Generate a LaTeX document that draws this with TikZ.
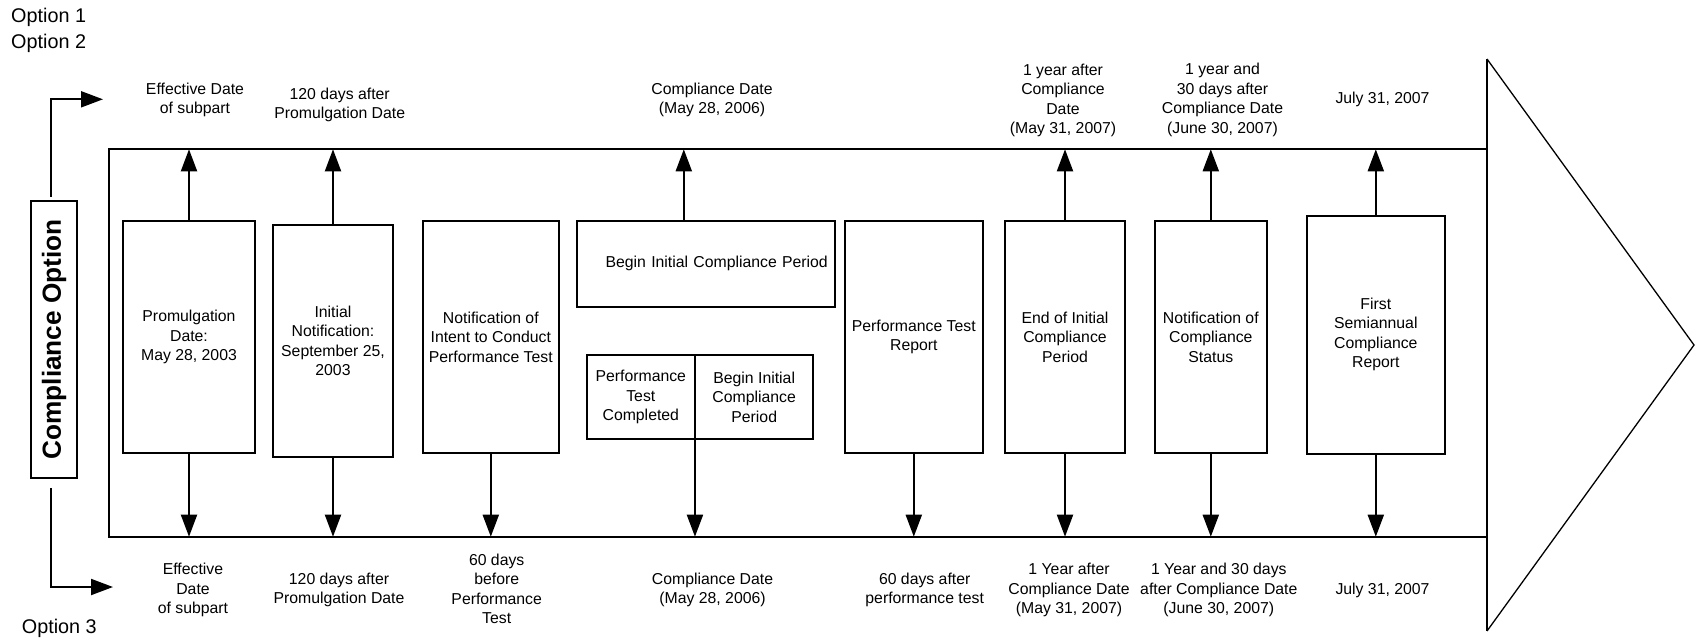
\documentclass[tikz,border=0pt]{standalone}
\usepackage{fontspec}
\setmainfont{Liberation Sans}
\usetikzlibrary{arrows.meta,calc}

\begin{document}
\begin{tikzpicture}[x=1pt, y=-1pt,
    box/.style={draw, line width=2pt, outer sep=0pt, inner sep=2pt, align=center, font=\fontsize{15.8}{19.5}\selectfont},
    lbl/.style={align=center, font=\fontsize{15.8}{19.5}\selectfont},
    opt/.style={anchor=west, inner sep=0pt, font=\fontsize{19.8}{24}\selectfont},
    arr/.style={line width=2pt, -{Triangle[length=22pt, width=16pt]}}]
        \useasboundingbox (0,0) rectangle (1696,641);

        \node[box, minimum width=1378pt, minimum height=387.4pt] (frame) at (798,343) {};

        \node[box, minimum width=132pt, minimum height=232pt] (prom) at (189,337) {Promulgation\\Date:\\May 28, 2003};
        \node[box, minimum width=120.6pt, minimum height=232pt] (initnot) at (333,340.7) {Initial\\Notification:\\September 25,\\2003};
        \node[box, minimum width=136.3pt, minimum height=231.7pt] (intent) at (490.8,336.9) {Notification of\\Intent to Conduct\\Performance Test};
        \node[box, minimum width=258.3pt, minimum height=85.7pt, text width=244pt, align=right] (begin) at (705.8,263.8) {Begin Initial Compliance Period};
        \node[box, minimum width=108.3pt, minimum height=84pt] (ptdone) at (640.8,397) {Performance\\Test\\Completed};
        \node[box, minimum width=118.3pt, minimum height=84pt] (beginb) at (754.2,397) {Begin Initial\\Compliance\\Period};
        \node[box, minimum width=137.7pt, minimum height=232pt] (ptrep) at (913.8,337) {Performance Test\\Report};
        \node[box, minimum width=120pt, minimum height=232pt] (endinit) at (1065,337) {End of Initial\\Compliance\\Period};
        \node[box, minimum width=111.7pt, minimum height=232pt] (noc) at (1210.8,337) {Notification of\\Compliance\\Status};
        \node[box, minimum width=138.3pt, minimum height=237.8pt] (semi) at (1375.8,334.6) {First\\Semiannual\\Compliance\\Report};

        \node[box, rotate=90, minimum width=277pt, minimum height=46pt, font=\bfseries\fontsize{26.2}{30}\selectfont] (copt) at (54,339.4) {Compliance Option};

        % option labels
        \node[opt] (opt1) at (11,17) {Option 1};
        \node[opt] (opt2) at (11,43) {Option 2};
        \node[opt] (opt3) at (21.7,628) {Option 3};

        % dates above the frame
        \node[lbl] (effA) at (195,100) {Effective Date\\of subpart};
        \node[lbl] (daysA) at (339.7,105) {120 days after\\Promulgation Date};
        \node[lbl] (compA) at (712,100) {Compliance Date\\(May 28, 2006)};
        \node[lbl] (yearA) at (1063,100.5) {1 year after\\Compliance\\Date\\(May 31, 2007)};
        \node[lbl] (yearmoA) at (1222.5,100) {1 year and\\30 days after\\Compliance Date\\(June 30, 2007)};
        \node[lbl] (julyA) at (1382.5,99.5) {July 31, 2007};

        % dates below the frame
        \node[lbl] (effB) at (193,590) {Effective\\Date\\of subpart};
        \node[lbl] (daysB) at (339,590) {120 days after\\Promulgation Date};
        \node[lbl] (beforeB) at (496.7,589) {60 days\\before\\Performance\\Test};
        \node[lbl] (compB) at (712.5,590) {Compliance Date\\(May 28, 2006)};
        \node[lbl] (afterB) at (924.7,590) {60 days after\\performance test};
        \node[lbl] (yearB) at (1069,590) {1 Year after\\Compliance Date\\(May 31, 2007)};
        \node[lbl] (yearmoB) at (1218.8,590) {1 Year and 30 days\\after Compliance Date\\(June 30, 2007)};
        \node[lbl] (julyB) at (1382.5,590) {July 31, 2007};

        \coordinate (toptip) at (103,99.3);
        \coordinate (bottip) at (113,587);
        \coordinate (beginup) at ($(begin.north)+(-22,0)$);

        \draw[arr] ($(copt.east)+(-3,-4)$) |- (toptip);
        \draw[arr] ($(copt.west)+(-3,10)$) |- (bottip);

        \path (prom) edge[arr] (prom |- frame.north);
        \path (prom) edge[arr] (prom |- frame.south);
        \path (initnot) edge[arr] (initnot |- frame.north);
        \path (initnot) edge[arr] (initnot |- frame.south);
        \path (intent) edge[arr] (intent |- frame.south);
        \path (beginup) edge[arr] (beginup |- frame.north);
        \path (ptdone.south east) edge[arr] (ptdone.south east |- frame.south);
        \path (ptrep) edge[arr] (ptrep |- frame.south);
        \path (endinit) edge[arr] (endinit |- frame.north);
        \path (endinit) edge[arr] (endinit |- frame.south);
        \path (noc) edge[arr] (noc |- frame.north);
        \path (noc) edge[arr] (noc |- frame.south);
        \path (semi) edge[arr] (semi |- frame.north);
        \path (semi) edge[arr] (semi |- frame.south);

        % arrow head on the right
        \draw[line width=1.3pt] (1487,59) -- (1694,345) -- (1487,631);
        \draw[line width=2pt] (1487,59) -- (1487,631);
      \end{tikzpicture}
\end{document}
